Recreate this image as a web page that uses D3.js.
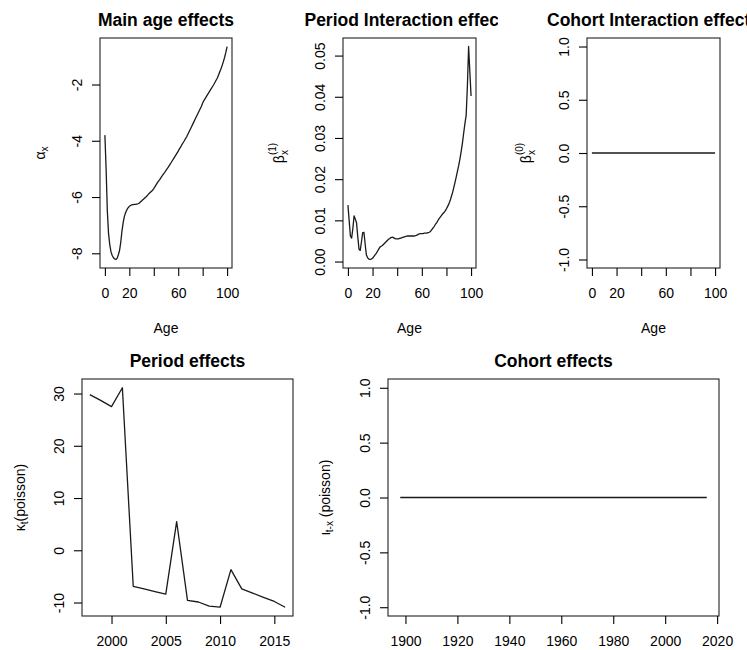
<!DOCTYPE html>
<html>
<head>
<meta charset="utf-8">
<script src="https://cdn.jsdelivr.net/npm/d3@7"></script>
<style>
  body { margin: 0; background: #fff; }
  svg { display: block; font-family: Arial, "Liberation Sans", Helvetica, sans-serif; }
</style>
</head>
<body>
<svg id="chart" width="747" height="650"></svg>
<script>
// ---- data -------------------------------------------------------------
const ages = d3.range(0, 101);

// main age effects alpha_x
const ageEffect = [
  -3.80,-5.00,-6.50,-7.30,-7.70,-7.95,-8.08,-8.16,-8.20,-8.22,
  -8.18,-8.05,-7.90,-7.60,-7.20,-6.90,-6.68,-6.55,-6.45,-6.38,
  -6.33,-6.30,-6.28,-6.27,-6.26,-6.26,-6.25,-6.24,-6.22,-6.18,
  -6.14,-6.10,-6.06,-6.02,-5.98,-5.93,-5.88,-5.84,-5.80,-5.76,
  -5.70,-5.63,-5.56,-5.49,-5.43,-5.37,-5.30,-5.24,-5.18,-5.12,
  -5.05,-4.99,-4.93,-4.86,-4.79,-4.72,-4.65,-4.58,-4.51,-4.44,
  -4.37,-4.29,-4.22,-4.14,-4.07,-4.00,-3.92,-3.85,-3.76,-3.67,
  -3.58,-3.49,-3.40,-3.31,-3.22,-3.13,-3.04,-2.95,-2.86,-2.77,
  -2.66,-2.57,-2.50,-2.43,-2.36,-2.29,-2.22,-2.15,-2.08,-2.01,
  -1.93,-1.85,-1.77,-1.66,-1.55,-1.44,-1.32,-1.18,-1.03,-0.85,
  -0.65
];

// period interaction beta_x^(1)
const periodInteraction = [
  0.0137,0.0100,0.0062,0.0057,0.0080,0.0111,0.0103,0.0094,0.0060,0.0030,
  0.0027,0.0048,0.0070,0.0071,0.0042,0.0016,0.0009,0.0006,0.0005,0.0006,
  0.0008,0.0012,0.0016,0.0020,0.0025,0.0030,0.0035,0.0037,0.0039,0.0042,
  0.0045,0.0048,0.0051,0.0054,0.0056,0.0058,0.0059,0.0058,0.0056,0.0055,
  0.0055,0.0055,0.0056,0.0057,0.0058,0.0059,0.0060,0.0061,0.0062,0.0062,
  0.0062,0.0062,0.0062,0.0062,0.0062,0.0063,0.0064,0.0066,0.0067,0.0068,
  0.0068,0.0068,0.0069,0.0069,0.0069,0.0070,0.0071,0.0073,0.0077,0.0081,
  0.0085,0.0090,0.0094,0.0099,0.0104,0.0108,0.0112,0.0116,0.0119,0.0123,
  0.0128,0.0134,0.0140,0.0148,0.0158,0.0168,0.0180,0.0193,0.0206,0.0220,
  0.0234,0.0250,0.0268,0.0288,0.0312,0.0335,0.0355,0.0425,0.0522,0.0460,
  0.0402
];

// cohort interaction beta_x^(0)
const cohortInteraction = [
  0,0,0,0,0,0,0,0,0,0, 0,0,0,0,0,0,0,0,0,0,
  0,0,0,0,0,0,0,0,0,0, 0,0,0,0,0,0,0,0,0,0,
  0,0,0,0,0,0,0,0,0,0, 0,0,0,0,0,0,0,0,0,0,
  0,0,0,0,0,0,0,0,0,0, 0,0,0,0,0,0,0,0,0,0,
  0,0,0,0,0,0,0,0,0,0, 0,0,0,0,0,0,0,0,0,0,
  0
];

// period effects kappa_t
const periodYears = [1998,1999,2000,2001,2002,2003,2004,2005,2006,2007,
                     2008,2009,2010,2011,2012,2013,2014,2015,2016];
const periodEffect = [29.8,28.7,27.5,31.1,-6.9,-7.4,-7.9,-8.4,5.5,-9.6,
                      -9.9,-10.7,-10.9,-3.7,-7.4,-8.2,-9.0,-9.8,-10.9];

// cohort effects iota_{t-x}
const cohortYears = d3.range(1898, 2017);
const cohortEffect = [
  0,0,0,0,0,0,0,0,0,0, 0,0,0,0,0,0,0,0,0,0,
  0,0,0,0,0,0,0,0,0,0, 0,0,0,0,0,0,0,0,0,0,
  0,0,0,0,0,0,0,0,0,0, 0,0,0,0,0,0,0,0,0,0,
  0,0,0,0,0,0,0,0,0,0, 0,0,0,0,0,0,0,0,0,0,
  0,0,0,0,0,0,0,0,0,0, 0,0,0,0,0,0,0,0,0,0,
  0,0,0,0,0,0,0,0,0,0, 0,0,0,0,0,0,0,0,0
];

// tick positions and the labels that are printed
const ageTicks = [0, 20, 40, 60, 80, 100];
const ageTickLabels = [0, 20, 60, 100];
const alphaTicks = [-8, -6, -4, -2];
const betaTicks = [0, 0.01, 0.02, 0.03, 0.04, 0.05];
const unitTicks = [-1, -0.5, 0, 0.5, 1];
const periodTicks = [2000, 2005, 2010, 2015];
const kappaTicks = [-10, 0, 10, 20, 30];
const cohortTicks = [1900, 1920, 1940, 1960, 1980, 2000, 2020];

// ---- drawing ----------------------------------------------------------
const svg = d3.select("#chart");
const FS = 14;

// R-style range: data extent widened by 4% on each side
function padded(values) {
  let [a, b] = d3.extent(values);
  if (a === b) { a -= 1; b += 1; }
  const d = (b - a) * 0.04;
  return [a - d, b + d];
}

let clipId = 0;

function panel(o) {
  const [x0, x1, y0, y1] = o.box;
  const g = svg.append("g");
  const x = d3.scaleLinear().domain(padded(o.xs)).range([x0, x1]);
  const y = d3.scaleLinear().domain(padded(o.ys)).range([y1, y0]);

  // series line
  g.append("path")
    .datum(o.xs.map((v, i) => [v, o.ys[i]]))
    .attr("fill", "none")
    .attr("stroke", "#1a1a1a")
    .attr("stroke-width", 1.3)
    .attr("stroke-linejoin", "round")
    .attr("d", d3.line().x(d => x(d[0])).y(d => y(d[1])));

  // box
  g.append("rect")
    .attr("x", x0).attr("y", y0)
    .attr("width", x1 - x0).attr("height", y1 - y0)
    .attr("fill", "none").attr("stroke", "#222").attr("stroke-width", 1.1);

  // x axis
  const xa = g.append("g")
    .attr("transform", `translate(0,${y1})`)
    .call(d3.axisBottom(x).tickValues(o.xTicks).tickSize(8).tickPadding(12)
      .tickFormat(d => (o.xLabels.includes(d) ? String(d) : "")));
  xa.select(".domain").remove();
  xa.attr("font-size", FS).attr("font-family", null).attr("color", "#000");
  xa.selectAll("line").attr("stroke-width", 1.1);

  // y axis with rotated labels
  const ya = g.append("g")
    .attr("transform", `translate(${x0},0)`)
    .call(d3.axisLeft(y).tickValues(o.yTicks).tickSize(8).tickFormat(o.yFmt));
  ya.select(".domain").remove();
  ya.attr("font-size", FS).attr("font-family", null).attr("color", "#000");
  ya.selectAll("line").attr("stroke-width", 1.1);
  ya.selectAll("text")
    .attr("x", null).attr("dy", null)
    .attr("text-anchor", "middle")
    .attr("transform", "translate(-18,0) rotate(-90)");

  // title, clipped to the panel's figure region
  const cid = "clip" + (clipId++);
  svg.append("clipPath").attr("id", cid)
    .append("rect").attr("x", o.fig[0]).attr("y", 0)
    .attr("width", o.fig[1] - o.fig[0]).attr("height", 650);
  g.append("text")
    .attr("clip-path", `url(#${cid})`)
    .attr("x", (x0 + x1) / 2).attr("y", y0 - 12.5)
    .attr("text-anchor", "middle")
    .attr("font-size", 17.5).attr("font-weight", "bold")
    .text(o.title);

  if (o.xTitle) {
    g.append("text")
      .attr("x", (x0 + x1) / 2).attr("y", y1 + 65)
      .attr("text-anchor", "middle").attr("font-size", FS)
      .text(o.xTitle);
  }

  // y title (math-style label with sub/superscripts)
  const t = g.append("text")
    .attr("transform", `translate(${o.yTitleX},${(y0 + y1) / 2}) rotate(-90)`)
    .attr("text-anchor", "middle").attr("font-size", FS);
  o.yTitle.forEach(p => {
    const s = t.append("tspan").text(p.t);
    if (p.size) s.attr("font-size", p.size);
    if (p.dx) s.attr("dx", p.dx);
    if (p.dy) s.attr("dy", p.dy);
  });
}

const fmtInt = d => String(d);
const fmt2 = d => d.toFixed(2);
const fmt1 = d => d.toFixed(1);

panel({
  box: [100, 232, 38, 268], fig: [0, 249],
  xs: ages, ys: ageEffect,
  xTicks: ageTicks, xLabels: ageTickLabels,
  yTicks: alphaTicks, yFmt: fmtInt,
  title: "Main age effects", xTitle: "Age",
  yTitleX: 45,
  yTitle: [{ t: "α" }, { t: "x", size: 10, dy: 3 }]
});

panel({
  box: [343, 476, 38, 268], fig: [249, 498],
  xs: ages, ys: periodInteraction,
  xTicks: ageTicks, xLabels: ageTickLabels,
  yTicks: betaTicks, yFmt: fmt2,
  title: "Period Interaction effects", xTitle: "Age",
  yTitleX: 284,
  yTitle: [{ t: "β" }, { t: "x", size: 10, dy: 4 }, { t: "(1)", size: 10, dx: -5, dy: -12 }]
});

panel({
  box: [587, 720, 38, 268], fig: [498, 747],
  xs: ages, ys: cohortInteraction,
  xTicks: ageTicks, xLabels: ageTickLabels,
  yTicks: unitTicks, yFmt: fmt1,
  title: "Cohort Interaction effects", xTitle: "Age",
  yTitleX: 531,
  yTitle: [{ t: "β" }, { t: "x", size: 10, dy: 4 }, { t: "(0)", size: 10, dx: -5, dy: -12 }]
});

panel({
  box: [82, 293, 379, 616], fig: [0, 300],
  xs: periodYears, ys: periodEffect,
  xTicks: periodTicks, xLabels: periodTicks,
  yTicks: kappaTicks, yFmt: fmtInt,
  title: "Period effects", xTitle: null,
  yTitleX: 25,
  yTitle: [{ t: "κ" }, { t: "t", size: 10, dy: 3 }, { t: "(poisson)", dy: -3 }]
});

panel({
  box: [388, 719, 379, 616], fig: [300, 747],
  xs: cohortYears, ys: cohortEffect,
  xTicks: cohortTicks, xLabels: cohortTicks,
  yTicks: unitTicks, yFmt: fmt1,
  title: "Cohort effects", xTitle: null,
  yTitleX: 330,
  yTitle: [{ t: "ι" }, { t: "t-x", size: 10, dy: 3 }, { t: " (poisson)", dy: -3 }]
});
</script>
</body>
</html>
